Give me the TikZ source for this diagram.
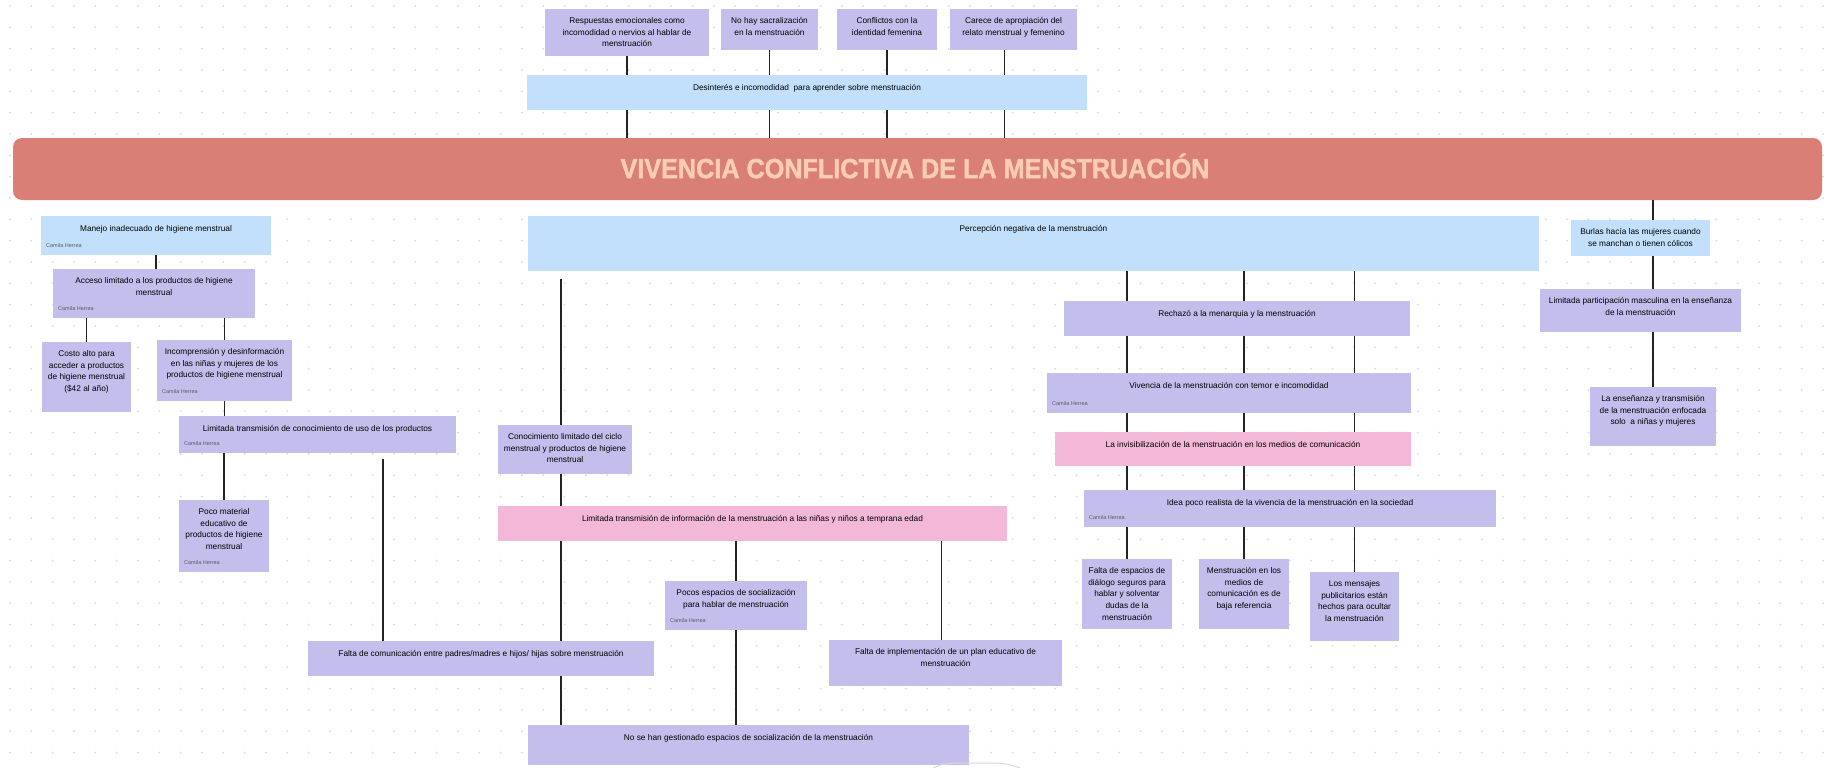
\documentclass[tikz,border=0pt]{standalone}
\usepackage{fontspec}
\setmainfont{Liberation Sans}
\newfontfamily\titulofont[FakeBold=1.6]{Liberation Sans Bold}
\usetikzlibrary{positioning}

\definecolor{celeste}{RGB}{194,224,252}
\definecolor{lila}{RGB}{196,190,237}
\definecolor{rosa}{RGB}{243,184,216}
\definecolor{coral}{RGB}{217,127,118}
\definecolor{durazno}{RGB}{252,205,180}
\definecolor{punto}{RGB}{216,216,216}
\definecolor{linea}{RGB}{35,35,35}
\definecolor{gris}{RGB}{90,90,90}

\begin{document}
\begin{tikzpicture}[x=1pt,y=-1pt]
\useasboundingbox (0,0) rectangle (1832,768);
\fill[white] (0,0) rectangle (1832,768);

% dotted canvas
\foreach \i in {0,...,85}
  \foreach \j in {0,...,35}
    \fill[punto] (10+21.33*\i,6+21.33*\j) circle (1pt);

% boxes
\begin{scope}[every node/.style={anchor=north west,inner sep=0pt,outer sep=0pt}]
    \node[fill=lila,minimum width=164pt,minimum height=47pt] (resp) at (545,9) {};
    \node[fill=lila,minimum width=97pt,minimum height=41pt] (sacral) at (721,9) {};
    \node[fill=lila,minimum width=100pt,minimum height=41pt] (confl) at (837,9) {};
    \node[fill=lila,minimum width=127pt,minimum height=41pt] (carece) at (950,9) {};
    \node[fill=celeste,minimum width=560pt,minimum height=35pt] (desint) at (527,75) {};
    \node[fill=coral,rounded corners=9pt,minimum width=1809pt,minimum height=62pt] (banner) at (13,138) {};

    \node[fill=celeste,minimum width=230pt,minimum height=39pt] (manejo) at (41,216) {};
    \node[fill=lila,minimum width=202pt,minimum height=49pt] (acceso) at (53,269) {};
    \node[fill=lila,minimum width=89pt,minimum height=70pt] (costo) at (42,342) {};
    \node[fill=lila,minimum width=135pt,minimum height=61pt] (incomp) at (157,340) {};
    \node[fill=lila,minimum width=277pt,minimum height=37pt] (limcon) at (179,416) {};
    \node[fill=lila,minimum width=90pt,minimum height=72pt] (poco) at (179,500) {};

    \node[fill=celeste,minimum width=1011pt,minimum height=55pt] (percep) at (528,216) {};
    \node[fill=lila,minimum width=134pt,minimum height=49pt] (conoc) at (498,425) {};
    \node[fill=rosa,minimum width=509pt,minimum height=35pt] (limInf) at (498,506) {};
    \node[fill=lila,minimum width=142pt,minimum height=49pt] (pocos) at (665,581) {};
    \node[fill=lila,minimum width=346pt,minimum height=35pt] (faltacom) at (308,641) {};
    \node[fill=lila,minimum width=233pt,minimum height=46pt] (faltaimp) at (829,640) {};
    \node[fill=lila,minimum width=441pt,minimum height=40pt] (nose) at (528,725) {};

    \node[fill=lila,minimum width=346pt,minimum height=35pt] (rech) at (1064,301) {};
    \node[fill=lila,minimum width=364pt,minimum height=40pt] (viv) at (1047,373) {};
    \node[fill=rosa,minimum width=356pt,minimum height=34pt] (invis) at (1055,432) {};
    \node[fill=lila,minimum width=412pt,minimum height=37pt] (idea) at (1084,490) {};
    \node[fill=lila,minimum width=90pt,minimum height=70pt] (faltaesp) at (1082,559) {};
    \node[fill=lila,minimum width=90pt,minimum height=70pt] (medios) at (1199,559) {};
    \node[fill=lila,minimum width=89pt,minimum height=69pt] (mensajes) at (1310,572) {};

    \node[fill=celeste,minimum width=139pt,minimum height=36pt] (burlas) at (1571,220) {};
    \node[fill=lila,minimum width=201pt,minimum height=43pt] (limpar) at (1540,289) {};
    \node[fill=lila,minimum width=126pt,minimum height=59pt] (ensen) at (1590,387) {};
\end{scope}

\node[text=durazno,font=\titulofont\fontsize{24}{24}\selectfont] (titulo) at (915,166)
    {\scalebox{1.05}[1.15]{VIVENCIA CONFLICTIVA DE LA MENSTRUACIÓN}};

% box texts
\begin{scope}[every node/.style={align=center,inner sep=0pt,
              font=\fontsize{8.3}{11.8}\selectfont,
              execute at begin node={\rule{0pt}{7pt}}}]
    \node[below=8pt of resp.north] (resp-t) {Respuestas emocionales como\\incomodidad o nervios al hablar de\\menstruación};
    \node[below=8pt of sacral.north] (sacral-t) {No hay sacralización\\en la menstruación};
    \node[below=8pt of confl.north] (confl-t) {Conflictos con la\\identidad femenina};
    \node[below=8pt of carece.north] (carece-t) {Carece de apropiación del\\relato menstrual y femenino};
    \node[below=8pt of desint.north] (desint-t) {Desinterés e incomodidad~ para aprender sobre menstruación};

    \node[below=8pt of manejo.north] (manejo-t) {Manejo inadecuado de higiene menstrual};
    \node[below=8pt of acceso.north] (acceso-t) {Acceso limitado a los productos de higiene\\menstrual};
    \node[below=8pt of costo.north] (costo-t) {Costo alto para\\acceder a productos\\de higiene menstrual\\(\$42 al año)};
    \node[below=8pt of incomp.north] (incomp-t) {Incomprensión y desinformación\\en las niñas y mujeres de los\\productos de higiene menstrual};
    \node[below=8pt of limcon.north] (limcon-t) {Limitada transmisión de conocimiento de uso de los productos};
    \node[below=8pt of poco.north] (poco-t) {Poco material\\educativo de\\productos de higiene\\menstrual};

    \node[below=8pt of percep.north] (percep-t) {Percepción negativa de la menstruación};
    \node[below=8pt of conoc.north] (conoc-t) {Conocimiento limitado del ciclo\\menstrual y productos de higiene\\menstrual};
    \node[below=8pt of limInf.north] (limInf-t) {Limitada transmisión de información de la menstruación a las niñas y niños a temprana edad};
    \node[below=8pt of pocos.north] (pocos-t) {Pocos espacios de socialización\\para hablar de menstruación};
    \node[below=8pt of faltacom.north] (faltacom-t) {Falta de comunicación entre padres/madres e hijos/ hijas sobre menstruación};
    \node[below=8pt of faltaimp.north] (faltaimp-t) {Falta de implementación de un plan educativo de\\menstruación};
    \node[below=8pt of nose.north] (nose-t) {No se han gestionado espacios de socialización de la menstruación};

    \node[below=8pt of rech.north] (rech-t) {Rechazó a la menarquia y la menstruación};
    \node[below=8pt of viv.north] (viv-t) {Vivencia de la menstruación con temor e incomodidad};
    \node[below=8pt of invis.north] (invis-t) {La invisibilización de la menstruación en los medios de comunicación};
    \node[below=8pt of idea.north] (idea-t) {Idea poco realista de la vivencia de la menstruación en la sociedad};
    \node[below=8pt of faltaesp.north] (faltaesp-t) {Falta de espacios de\\diálogo seguros para\\hablar y solventar\\dudas de la\\menstruación};
    \node[below=8pt of medios.north] (medios-t) {Menstruación en los\\medios de\\comunicación es de\\baja referencia};
    \node[below=8pt of mensajes.north] (mensajes-t) {Los mensajes\\publicitarios están\\hechos para ocultar\\la menstruación};

    \node[below=8pt of burlas.north] (burlas-t) {Burlas hacía las mujeres cuando\\se manchan o tienen cólicos};
    \node[below=8pt of limpar.north] (limpar-t) {Limitada participación masculina en la enseñanza\\de la menstruación};
    \node[below=8pt of ensen.north] (ensen-t) {La enseñanza y transmisión\\de la menstruación enfocada\\solo~ a niñas y mujeres};
\end{scope}

% author tags
\foreach \b in {manejo,acceso,incomp,limcon,poco,pocos,viv,idea}
    \node[anchor=base west,inner sep=0pt,text=gris,font=\fontsize{5.5}{6}\selectfont]
        (\b-a) at ([shift={(5pt,7.5pt)}]\b.south west) {Camila Herrea};

% free ends
\coordinate (cx) at ([xshift=-9pt]carece.south);
\coordinate (lc) at (383,459);
\coordinate (pn) at (561,279);
\coordinate (fi) at ([xshift=-4pt]faltaimp.north);

\begin{scope}[every edge/.style={draw=linea,line width=1.4pt}]
    \path [-] (resp.south) edge (resp.south |- desint.north);
    \path [-] (sacral.south) edge (sacral.south |- desint.north);
    \path [-] (confl.south) edge (confl.south |- desint.north);
    \path [-] (cx) edge (cx |- desint.north);
    \path [-] (resp.south |- desint.south) edge (resp.south |- banner.north);
    \path [-] (sacral.south |- desint.south) edge (sacral.south |- banner.north);
    \path [-] (confl.south |- desint.south) edge (confl.south |- banner.north);
    \path [-] (cx |- desint.south) edge (cx |- banner.north);

    \path [-] (manejo.south) edge (manejo.south |- acceso.north);
    \path [-] (costo.north |- acceso.south) edge (costo.north);
    \path [-] (incomp.north |- acceso.south) edge (incomp.north);
    \path [-] (incomp.south) edge (incomp.south |- limcon.north);
    \path [-] (poco.north |- limcon.south) edge (poco.north);
    \path [-] (lc) edge (lc |- faltacom.north);

    \path [-] (pn) edge (pn |- conoc.north);
    \path [-] (pn |- conoc.south) edge (pn |- limInf.north);
    \path [-] (pn |- limInf.south) edge (pn |- faltacom.north);
    \path [-] (pn |- faltacom.south) edge (pn |- nose.north);
    \path [-] (pocos.north |- limInf.south) edge (pocos.north);
    \path [-] (pocos.south) edge (pocos.south |- nose.north);
    \path [-] (fi |- limInf.south) edge (fi);

    \foreach \c in {faltaesp,medios,mensajes} {
        \path [-] (\c.north |- percep.south) edge (\c.north |- rech.north);
        \path [-] (\c.north |- rech.south) edge (\c.north |- viv.north);
        \path [-] (\c.north |- viv.south) edge (\c.north |- invis.north);
        \path [-] (\c.north |- invis.south) edge (\c.north |- idea.north);
        \path [-] (\c.north |- idea.south) edge (\c.north);
    }

    \path [-] (ensen.north |- banner.south) edge (ensen.north |- burlas.north);
    \path [-] (ensen.north |- burlas.south) edge (ensen.north |- limpar.north);
    \path [-] (ensen.north |- limpar.south) edge (ensen.north);
\end{scope}

% cut-off shape at the bottom edge
\draw[gray!30,line width=1pt] (933,768) .. controls (945,763) .. (975,763) .. controls (1005,763) .. (1020,768);
\end{tikzpicture}
\end{document}
